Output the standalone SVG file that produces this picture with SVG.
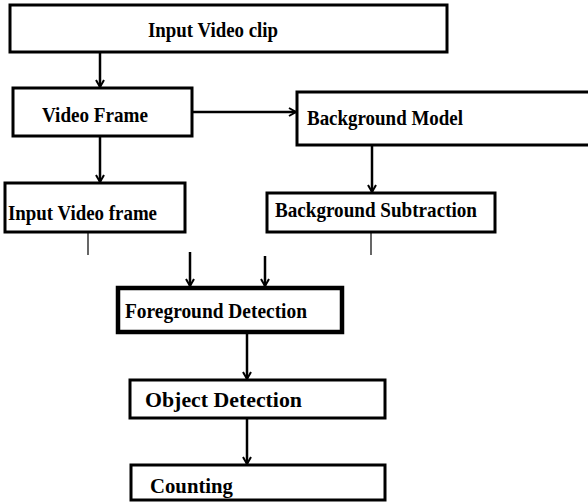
<svg xmlns="http://www.w3.org/2000/svg" width="588" height="502" viewBox="0 0 588 502">
<defs>
<marker id="ah" markerWidth="10" markerHeight="10" refX="8" refY="5" orient="auto" markerUnits="userSpaceOnUse">
<path d="M1,1 L8,5 L1,9" fill="none" stroke="#000" stroke-width="2"/>
</marker>
<style>
.box{fill:#fff;stroke:#000;stroke-width:3}
.thick{stroke-width:4.5}
.t{font-family:"Liberation Serif","Times New Roman",serif;font-weight:bold;font-size:22px;fill:#000}
.ln{stroke:#000;stroke-width:2.5;fill:none}
.thin{stroke:#000;stroke-width:1.2;fill:none}
</style>
</defs>
<rect width="588" height="502" fill="#fff"/>
<g id="connectors">
<line class="ln" x1="100" y1="52" x2="100" y2="87" marker-end="url(#ah)"/>
<line class="ln" x1="192" y1="112" x2="296" y2="112" marker-end="url(#ah)"/>
<line class="ln" x1="100" y1="136" x2="100" y2="182" marker-end="url(#ah)"/>
<line class="ln" x1="372" y1="145" x2="372" y2="192" marker-end="url(#ah)"/>
<line class="thin" x1="88" y1="232" x2="88" y2="255"/>
<line class="thin" x1="371" y1="232" x2="371" y2="255"/>
<line class="ln" x1="190" y1="252" x2="190" y2="286" marker-end="url(#ah)"/>
<line class="ln" x1="265" y1="256" x2="265" y2="286" marker-end="url(#ah)"/>
<line class="ln" x1="247" y1="332" x2="247" y2="379" marker-end="url(#ah)"/>
<line class="ln" x1="247" y1="418" x2="247" y2="464" marker-end="url(#ah)"/>
</g>
<g id="input-video-clip">
<rect class="box" x="10" y="5" width="437" height="47"/>
<text class="t" x="148" y="37" textLength="130" lengthAdjust="spacingAndGlyphs">Input Video clip</text>
</g>
<g id="video-frame">
<rect class="box" x="13" y="88" width="179" height="48"/>
<text class="t" x="42" y="122" textLength="106" lengthAdjust="spacingAndGlyphs">Video Frame</text>
</g>
<g id="background-model">
<rect class="box" x="297" y="92" width="300" height="53"/>
<text class="t" x="307" y="125" textLength="156" lengthAdjust="spacingAndGlyphs">Background Model</text>
</g>
<g id="input-video-frame">
<rect class="box" x="5" y="183" width="180" height="49"/>
<text class="t" x="8" y="220" textLength="149" lengthAdjust="spacingAndGlyphs">Input Video frame</text>
</g>
<g id="background-subtraction">
<rect class="box" x="267" y="193" width="228" height="39"/>
<text class="t" x="275" y="217" textLength="202" lengthAdjust="spacingAndGlyphs">Background Subtraction</text>
</g>
<g id="foreground-detection">
<rect class="box thick" x="118" y="288" width="224" height="44"/>
<text class="t" x="125" y="318" textLength="182" lengthAdjust="spacingAndGlyphs">Foreground Detection</text>
</g>
<g id="object-detection">
<rect class="box" x="130" y="380" width="255" height="38"/>
<text class="t" x="145" y="407" textLength="157" lengthAdjust="spacingAndGlyphs">Object Detection</text>
</g>
<g id="counting">
<rect class="box" x="131" y="465" width="254" height="35"/>
<text class="t" x="150" y="493" textLength="83" lengthAdjust="spacingAndGlyphs">Counting</text>
</g>
</svg>
